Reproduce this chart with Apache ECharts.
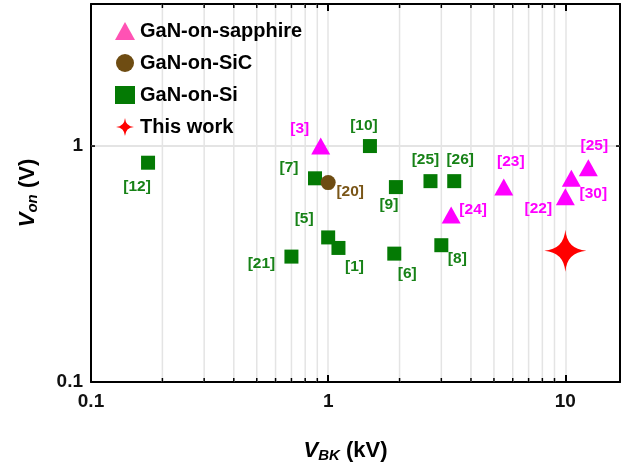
<!DOCTYPE html>
<html>
<head>
<meta charset="utf-8">
<script src="https://cdn.jsdelivr.net/npm/echarts@6/dist/echarts.min.js"></script>
<style>
  html, body { margin: 0; padding: 0; background: #fff; }
  #main { width: 629px; height: 468px; }
</style>
</head>
<body>
<div id="main"></div>
<script>
// data
var sapphireRefs = ['[3]', '[24]', '[23]', '[22]', '[30]', '[25]'];
var sapphireVbk = [0.93, 3.3, 5.5, 10.0, 10.6, 12.5];
var sapphireVon = [1.0, 0.51, 0.67, 0.61, 0.73, 0.81];

var sicRefs = ['[20]'];
var sicVbk = [1.0];
var sicVon = [0.70];

var siRefs = ['[12]', '[7]', '[10]', '[9]', '[25]', '[26]', '[5]', '[1]', '[6]', '[8]', '[21]'];
var siVbk = [0.174, 0.88, 1.5, 1.93, 2.7, 3.4, 1.0, 1.105, 1.9, 3.0, 0.70];
var siVon = [0.85, 0.73, 1.0, 0.67, 0.71, 0.71, 0.41, 0.37, 0.35, 0.38, 0.34];

var thisVbk = [10];
var thisVon = [0.36];

var xMinor = [0.2, 0.3, 0.4, 0.5, 0.6, 0.7, 0.8, 0.9, 2, 3, 4, 5, 6, 7, 8, 9];
var yMinor = [0.2, 0.3, 0.4, 0.5, 0.6, 0.7, 0.8, 0.9, 2, 3];

// label offsets (px) next to each marker
var sapphireOff = [[-21, -17], [22, -5], [7, -25], [-27, 12], [22, 15], [6, -22]];
var sicOff = [[22, 9]];
var siOff = [[-11, 24], [-26, -11], [-6, -20], [-7, 18], [-5, -21], [6, -21],
             [-24, -19], [16, 19], [13, 20], [16, 14], [-30, 7]];

var FONT = 'Liberation Sans, Arial, sans-serif';
var starPath = 'path://M0,-20 Q1.5,-1.5 20,0 Q1.5,1.5 0,20 Q-1.5,1.5 -20,0 Q-1.5,-1.5 0,-20 Z';

function pts(xs, ys, refs, offs, color) {
  return xs.map(function (x, i) {
    var item = { value: [x, ys[i]], name: refs ? refs[i] : '' };
    if (refs) {
      item.label = {
        show: true, position: 'inside', offset: offs[i],
        formatter: refs[i], color: color,
        fontFamily: FONT, fontWeight: 'bold', fontSize: 15.5
      };
    }
    return item;
  });
}

function minorRender(isX) {
  return function (params, api) {
    var cs = params.coordSys;
    var v = api.value(0);
    var ch = [];
    if (isX) {
      var px = api.coord([v, 1])[0];
      ch.push({ type: 'line', shape: { x1: px, y1: cs.y, x2: px, y2: cs.y + cs.height }, style: { stroke: '#e4e4e4', lineWidth: 1.5 } });
      ch.push({ type: 'line', shape: { x1: px, y1: cs.y + cs.height, x2: px, y2: cs.y + cs.height - 4 }, style: { stroke: '#000', lineWidth: 1.5 } });
      ch.push({ type: 'line', shape: { x1: px, y1: cs.y, x2: px, y2: cs.y + 4 }, style: { stroke: '#000', lineWidth: 1.5 } });
    } else {
      var py = api.coord([1, v])[1];
      ch.push({ type: 'line', shape: { x1: cs.x, y1: py, x2: cs.x + cs.width, y2: py }, style: { stroke: '#e4e4e4', lineWidth: 1.5 } });
      ch.push({ type: 'line', shape: { x1: cs.x, y1: py, x2: cs.x + 4, y2: py }, style: { stroke: '#000', lineWidth: 1.5 } });
      ch.push({ type: 'line', shape: { x1: cs.x + cs.width, y1: py, x2: cs.x + cs.width - 4, y2: py }, style: { stroke: '#000', lineWidth: 1.5 } });
    }
    return { type: 'group', children: ch };
  };
}

var axisCommon = {
  type: 'log', logBase: 10,
  axisLine: { show: true, onZero: false, lineStyle: { color: '#000', width: 2 } },
  axisTick: { show: true, inside: true, length: 7, lineStyle: { color: '#000', width: 2 } },
  splitLine: { show: false },
  minorTick: { show: false },
  minorSplitLine: { show: false }
};

var chart = echarts.init(document.getElementById('main'));
chart.setOption({
  animation: false,
  textStyle: { fontFamily: FONT },
  grid: { left: 91, right: 9, top: 4, bottom: 84, containLabel: false },
  legend: {
    orient: 'vertical', left: 110, top: 15,
    itemWidth: 20, itemHeight: 18, itemGap: 10,
    textStyle: { fontFamily: FONT, fontWeight: 'bold', fontSize: 20, color: '#000', lineHeight: 22 },
    data: [
      { name: 'GaN-on-sapphire', icon: 'triangle', itemStyle: { color: '#ff52b4' } },
      { name: 'GaN-on-SiC', icon: 'circle' },
      { name: 'GaN-on-Si', icon: 'rect' },
      { name: 'This work', icon: starPath }
    ]
  },
  xAxis: [
    Object.assign({}, axisCommon, {
      position: 'bottom', min: 0.1, max: 17,
      splitLine: { show: true, lineStyle: { color: '#e4e4e4', width: 1.5 } },
      axisLabel: {
        margin: 10, fontFamily: FONT, fontWeight: 'bold', fontSize: 19, color: '#111',
        showMaxLabel: false,
        formatter: function (v) { return String(+v.toPrecision(3)); }
      },
      name: '{i|V}{s|BK}{n| (kV)}', nameLocation: 'middle', nameGap: 56,
      nameTextStyle: {
        padding: [0, 20, 0, 0],
        rich: {
          i: { fontFamily: FONT, fontWeight: 'bold', fontStyle: 'italic', fontSize: 22, color: '#000' },
          s: { fontFamily: FONT, fontWeight: 'bold', fontStyle: 'italic', fontSize: 15, color: '#000', padding: [10, 0, 0, 0] },
          n: { fontFamily: FONT, fontWeight: 'bold', fontSize: 22, color: '#000' }
        }
      }
    }),
    Object.assign({}, axisCommon, {
      position: 'top', min: 0.1, max: 17, axisLabel: { show: false }
    })
  ],
  yAxis: [
    Object.assign({}, axisCommon, {
      position: 'left', min: 0.1, max: 4,
      splitLine: { show: true, lineStyle: { color: '#e4e4e4', width: 1.5 } },
      axisLabel: {
        margin: 8, fontFamily: FONT, fontWeight: 'bold', fontSize: 19, color: '#111',
        showMaxLabel: false,
        formatter: function (v) { return String(+v.toPrecision(3)); }
      },
      name: '{i|V}{s|on}{n| (V)}', nameLocation: 'middle', nameGap: 51, nameRotate: 90,
      nameTextStyle: {
        rich: {
          i: { fontFamily: FONT, fontWeight: 'bold', fontStyle: 'italic', fontSize: 22, color: '#000' },
          s: { fontFamily: FONT, fontWeight: 'bold', fontStyle: 'italic', fontSize: 15, color: '#000', padding: [10, 0, 0, 0] },
          n: { fontFamily: FONT, fontWeight: 'bold', fontSize: 22, color: '#000' }
        }
      }
    }),
    Object.assign({}, axisCommon, {
      position: 'right', min: 0.1, max: 4, axisLabel: { show: false }
    })
  ],
  series: [
    {
      type: 'custom', silent: true, z: 1, renderItem: minorRender(true),
      data: xMinor.map(function (v) { return [v, 1]; })
    },
    {
      type: 'custom', silent: true, z: 1, renderItem: minorRender(false),
      data: yMinor.map(function (v) { return [1, v]; })
    },
    {
      name: 'GaN-on-sapphire', type: 'scatter', symbol: 'triangle', symbolSize: [19, 17],
      itemStyle: { color: '#ff00ff', opacity: 1 },
      data: pts(sapphireVbk, sapphireVon, sapphireRefs, sapphireOff, '#ff00ff'), z: 3
    },
    {
      name: 'GaN-on-SiC', type: 'scatter', symbol: 'circle', symbolSize: 15,
      itemStyle: { color: '#6e4c12', opacity: 1 },
      data: pts(sicVbk, sicVon, sicRefs, sicOff, '#7a5618'), z: 4
    },
    {
      name: 'GaN-on-Si', type: 'scatter', symbol: 'rect', symbolSize: 14,
      itemStyle: { color: '#047a04', opacity: 1 },
      data: pts(siVbk, siVon, siRefs, siOff, '#178217'), z: 3
    },
    {
      name: 'This work', type: 'scatter', symbol: starPath, symbolSize: 42,
      itemStyle: { color: '#ff0000', opacity: 1 },
      data: pts(thisVbk, thisVon, null, null, '#ff0000'), z: 5
    }
  ]
});
</script>
</body>
</html>
